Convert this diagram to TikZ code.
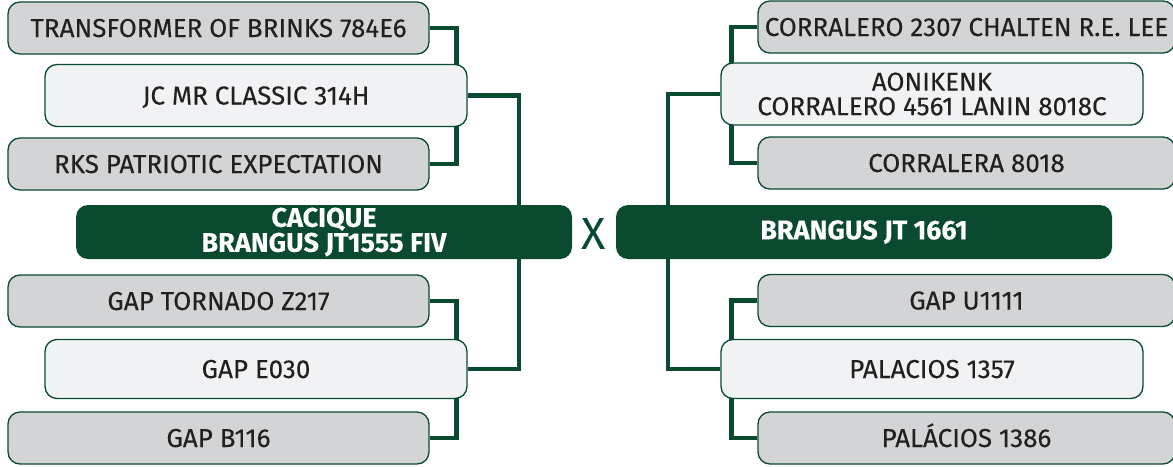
\documentclass[tikz,border=0pt]{standalone}
\usepackage{fontspec}
\setmainfont{Fira Sans}[FakeBold=0.15]
\newfontfamily\xfont{Fira Sans}
\usetikzlibrary{backgrounds}
\definecolor{dg}{HTML}{0A4A2E}
\definecolor{gfill}{HTML}{D3D4D6}
\definecolor{lfill}{HTML}{F1F2F4}
\definecolor{txt}{HTML}{231F20}
\begin{document}
\begin{tikzpicture}[x=1pt,y=-1pt,
  basebox/.style={draw=dg, line width=1.3pt, rounded corners=12pt, text=txt,
    font=\fontsize{26}{24.5}\selectfont, inner sep=0pt, align=center},
  gbox/.style={basebox, fill=gfill, minimum height=52pt, text height=18pt, text depth=0pt},
  wbox/.style={basebox, fill=lfill, minimum height=62pt, minimum width=422pt},
  wone/.style={wbox, text height=18pt, text depth=0pt},
  lbox/.style={gbox, minimum width=421pt},
  rbox/.style={gbox, minimum width=417pt},
  mainbox/.style={fill=dg, rounded corners=12pt, text=white,
    font=\bfseries\fontsize{27}{25}\selectfont, minimum width=496pt,
    minimum height=54pt, inner sep=0pt, align=center},
  link/.style={draw=dg, line width=4.5pt}
]
\useasboundingbox (0,0) rectangle (1173,466);
% left side
\node[lbox] (t1) at (218.5,28) {TRANSFORMER OF BRINKS 784E6};
\node[wone] (jc) at (256,95.5) {JC MR CLASSIC 314H};
\node[lbox] (rks) at (218.5,164) {RKS PATRIOTIC EXPECTATION};
\node[mainbox] (cac) at (324,232) {CACIQUE\\BRANGUS JT1555 FIV};
\node[lbox] (gt) at (218.5,301) {GAP TORNADO Z217};
\node[wone, minimum height=59pt] (ge) at (256,369) {GAP E030};
\node[lbox] (gb) at (218.5,438) {GAP B116};
% cross
\node[text=dg, font=\xfont\fontsize{45}{45}\selectfont, inner sep=0pt] (x) at (594,234) {X};
% right side
\node[mainbox] (bj) at (864,232) {BRANGUS JT 1661};
\node[rbox] (c1) at (966.5,27) {CORRALERO 2307 CHALTEN R.E. LEE};
\node[wbox] (ao) at (932,94) {AONIKENK\\CORRALERO 4561 LANIN 8018C};
\node[rbox] (c3) at (966.5,163) {CORRALERA 8018};
\node[rbox] (gu) at (966.5,300.5) {GAP U1111};
\node[wone, minimum height=59pt] (pal) at (932,369) {PALACIOS 1357};
\node[rbox] (pa2) at (966.5,438) {PALÁCIOS 1386};
\coordinate (lv) at (519,232);
\coordinate (rv) at (668,232);
\begin{scope}[on background layer]
  \draw[link] (t1.east) -- ++(27,0) |- (rks.east);
  \draw[link] (gt.east) -- ++(27,0) |- (gb.east);
  \draw[link] (jc.east) -| (lv) |- (ge.east);
  \draw[link] (c1.west) -- ++(-26,0) |- (c3.west);
  \draw[link] (gu.west) -- ++(-26,0) |- (pa2.west);
  \draw[link] (ao.west) -| (rv) |- (pal.west);
\end{scope}
\end{tikzpicture}
\end{document}
